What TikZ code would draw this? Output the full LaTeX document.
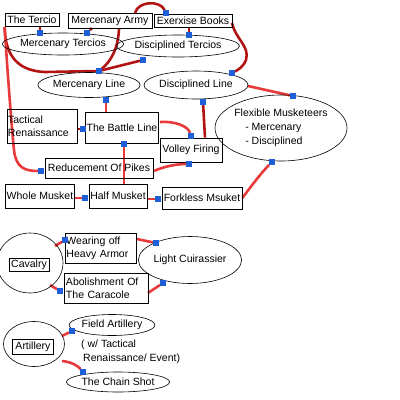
\documentclass[tikz,border=0pt]{standalone}
\usepackage{fontspec}
\setmainfont{Liberation Sans}
\usepackage{xcolor}
\usepackage{tikz}
\usetikzlibrary{shapes.geometric,backgrounds}
\definecolor{rougev}{RGB}{232,58,58}
\definecolor{rougef}{RGB}{178,20,20}
\definecolor{bleuc}{RGB}{30,95,215}

\begin{document}
\begin{tikzpicture}[x=1pt, y=-1pt,
  bx/.style 2 args={rectangle, draw, line width=0.7pt, inner sep=0pt, minimum width=#1, minimum height=#2,
                    font=\fontsize{10.5}{13}\selectfont},
  ov/.style 2 args={ellipse, draw, line width=0.6pt, inner sep=0pt, minimum width=#1, minimum height=#2,
                    font=\fontsize{10.5}{13}\selectfont},
  sq/.style={rectangle, fill=bleuc, inner sep=0pt, minimum size=5.5pt},
  lnv/.style={draw=rougev, line width=2.6pt},
  lnf/.style={draw=rougef, line width=2.6pt}]

\useasboundingbox (0,0) rectangle (400,400);

% infanterie
\node[bx={54pt}{13pt}] (tercio) at (32,20) {The Tercio};
\node[bx={84pt}{15pt}] (merarmy) at (110,21) {Mercenary Army};
\node[bx={78pt}{13pt}] (books) at (193,21) {Exerxise Books};
\node[ov={112pt}{22pt}] (mtercios) at (63,44) {Mercenary Tercios};
\node[ov={120pt}{22pt}] (dtercios) at (178,46) {Disciplined Tercios};
\node[ov={98pt}{25pt}] (mline) at (89,85) {Mercenary Line};
\node[ov={102pt}{28pt}] (dline) at (196,85) {Disciplined Line};
\node[bx={70pt}{34pt}, align=left, text width=68pt] (tactical) at (42,126) {Tactical\\Renaissance};
\node[bx={73pt}{31pt}] (battle) at (122,128) {The Battle Line};
\node[bx={62pt}{24pt}] (volley) at (191,150) {Volley Firing};
\node[ov={132pt}{66pt}, align=left] (flex) at (281,128)
  {Flexible Musketeers\\[1pt] \hspace*{11pt}- Mercenary\\[1pt] \hspace*{11pt}- Disciplined};
\node[bx={108pt}{20pt}] (pikes) at (99,168) {Reducement Of Pikes};
\node[bx={69pt}{24pt}] (whole) at (40,196) {Whole Musket};
\node[bx={58pt}{24pt}] (half) at (118,196) {Half Musket};
\node[bx={80pt}{22pt}] (forkless) at (202,198) {Forkless Msuket};

% cavalerie
\node[ov={66pt}{60pt}] (cavring) at (30,263) {};
\node[bx={40pt}{13pt}] (cavalry) at (29,265) {Cavalry};
\node[bx={71pt}{30pt}, align=left, text width=69pt] (wearing) at (101,248) {Wearing off\\Heavy Armor};
\node[ov={92pt}{47pt}] (light) at (190,260) {Light Cuirassier};
\node[bx={84pt}{30pt}, align=left, text width=80pt] (abol) at (106,288) {Abolishment Of\\The Caracole};

% artillerie
\node[ov={61pt}{45pt}] (artring) at (34,344) {};
\node[bx={41pt}{15pt}] (artillery) at (33,347) {Artillery};
\node[ov={85pt}{21pt}] (field) at (112,325) {Field Artillery};
\node[font=\fontsize{10.5}{14}\selectfont, align=left, anchor=north west, inner sep=0pt] (note) at (81,340)
  {( w/ Tactical\\ \hspace*{2pt}Renaissance/ Event)};
\node[ov={98pt}{20pt}] (chain) at (118,382) {The Chain Shot};

% carres
\node[sq] (s1) at (40,33) {};
\node[sq] (s2) at (87,33) {};
\node[sq] (s3) at (189,35) {};
\node[sq] (s4) at (166,13) {};
\node[sq] (s5) at (99,71) {};
\node[sq] (s6) at (143,60) {};
\node[sq] (s7) at (232,73) {};
\node[sq] (s8) at (106,100) {};
\node[sq] (s9) at (203,102) {};
\node[sq] (s10) at (293,96) {};
\node[sq] (s11) at (191,136) {};
\node[sq] (s12) at (83,129) {};
\node[sq] (s13) at (124,144) {};
\node[sq] (s14) at (189,164) {};
\node[sq] (s15) at (85,198) {};
\node[sq] (s16) at (158,199) {};
\node[sq] (s17) at (272,162) {};
\node[sq] (s18) at (41,171) {};
\node[sq] (s19) at (65,240) {};
\node[sq] (s20) at (156,243) {};
\node[sq] (s21) at (60,291) {};
\node[sq] (s22) at (163,283) {};
\node[sq] (s23) at (72,331) {};
\node[sq] (s24) at (83,372) {};

% liens
\begin{pgfonlayer}{background}
\draw[lnf] (tercio.south -| s1) -- (s1);
\draw[lnf] (92,28) -- (s2);
\draw[lnf] (books.south -| s3) -- (s3);
\draw[lnf] (135,13) .. controls (138,1) and (160,0) .. (s4);
\draw[lnf] (tercio.south west) .. controls (5,58) and (20,71) .. (45,72) -- (s5);
\draw[lnf] (119,29) .. controls (118,50) and (110,62) .. (s5);
\draw[lnf] (s6) -- (s5);
\draw[lnf] (232,23) .. controls (236,40) and (250,46) .. (246,60) .. controls (244,66) and (238,70) .. (s7);
\draw[lnv] (s8) -- (battle.north -| s8);
\draw[lnf] (s9) -- (volley.north -| 205,0);
\draw[lnv] (248,86) -- (s10);
\draw[lnv] (160,122) .. controls (175,121) and (188,126) .. (s11);
\draw[lnf] (tactical.east |- s12) -- (s12);
\draw[lnv] (s13) -- (half.north -| s13);
\draw[lnv] (154,171) .. controls (165,166) and (178,164) .. (s14);
\draw[lnv] (whole.east |- s15) -- (s15);
\draw[lnv] (half.east |- s16) -- (s16);
\draw[lnv] (forkless.east) .. controls (252,185) and (262,172) .. (s17);
\draw[lnv] (tercio.south west) .. controls (8,80) and (12,130) .. (14,150) .. controls (16,168) and (25,171) .. (s18);
\draw[lnv] (55,246) -- (s19);
\draw[lnv] (137,239) -- (s20);
\draw[lnv] (50,285) -- (s21);
\draw[lnv] (148,293) -- (s22);
\draw[lnv] (62,336) -- (s23);
\draw[lnv] (62,361) .. controls (72,362) and (78,366) .. (s24);
\end{pgfonlayer}

\end{tikzpicture}
\end{document}
